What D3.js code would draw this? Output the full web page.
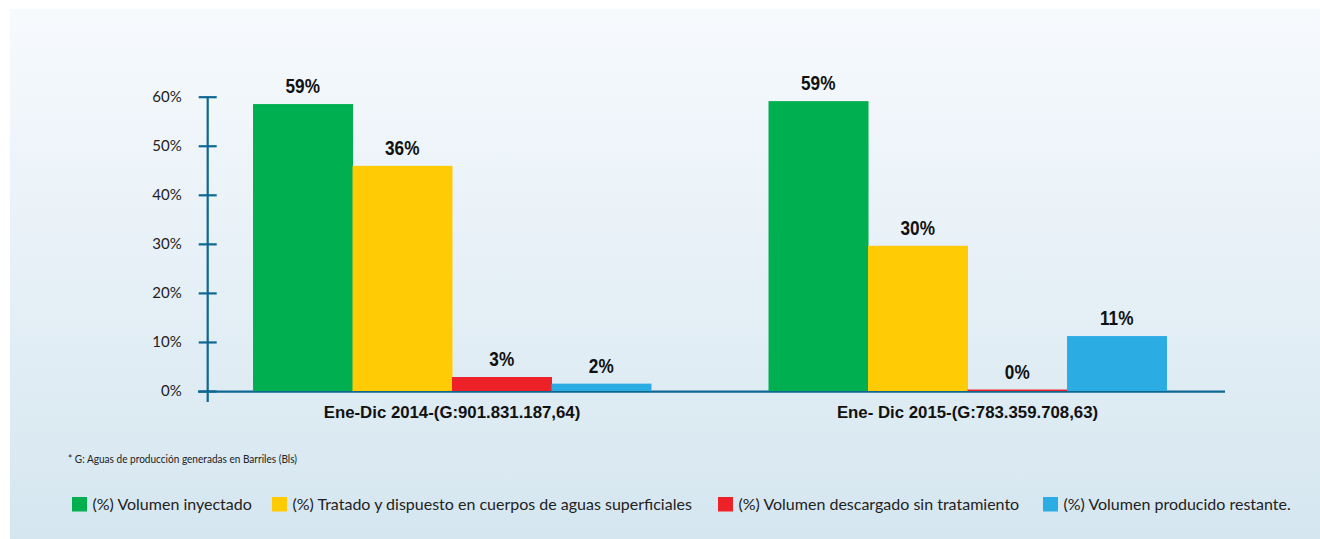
<!DOCTYPE html>
<html>
<head>
<meta charset="utf-8">
<script src="https://cdn.jsdelivr.net/npm/d3@7"></script>
<style>
  body { margin: 0; background: #fff; }
  svg { display: block; }
</style>
</head>
<body>
<svg id="chart" width="1320" height="539"></svg>
<script>
// data
let periods = ["Ene-Dic 2014-(G:901.831.187,64)", "Ene- Dic 2015-(G:783.359.708,63)"];
let seriesNames = ["(%) Volumen inyectado",
    "(%) Tratado y dispuesto en cuerpos de aguas superficiales",
    "(%) Volumen descargado sin tratamiento",
    "(%) Volumen producido restante."];
let seriesColors = ["#00b050", "#ffcb05", "#ed2128", "#2badE4"];
// bar heights (as drawn) and the printed labels
let values2014 = [0.585, 0.459, 0.0285, 0.015];
let values2015 = [0.591, 0.296, 0.003, 0.112];
let labels2014 = ["59%", "36%", "3%", "2%"];
let labels2015 = ["59%", "30%", "0%", "11%"];
let yTicks = [0, 0.1, 0.2, 0.3, 0.4, 0.5, 0.6];

let axisColor = "#0c6791";

var svg = d3.select("#chart");

// background panel
var defs = svg.append("defs");
var grad = defs.append("linearGradient").attr("id", "bg")
    .attr("x1", 0).attr("y1", 0).attr("x2", 0).attr("y2", 1);
grad.append("stop").attr("offset", "0%").attr("stop-color", "#f7fafd");
grad.append("stop").attr("offset", "100%").attr("stop-color", "#d5e6f0");
svg.append("rect")
    .attr("x", 10).attr("y", 9)
    .attr("width", 1310).attr("height", 530)
    .attr("fill", "url(#bg)");

// scales
var yScale = d3.scaleLinear()
    .domain([0, 0.6])
    .range([391, 96.7]);

var xScale = d3.scaleBand()
    .domain(periods)
    .range([194.25, 1225.25])
    .paddingInner(0.228)
    .paddingOuter(0.114);

var xSub = d3.scaleBand()
    .domain(d3.range(seriesNames.length))
    .range([0, xScale.bandwidth()]);

var groups = [
    {period: periods[0], values: values2014, labels: labels2014},
    {period: periods[1], values: values2015, labels: labels2015}
];

// y axis
var yAxis = d3.axisLeft(yScale)
    .tickValues(yTicks)
    .tickFormat(d3.format(".0%"))
    .tickSizeOuter(0)
    .tickSize(9)
    .tickPadding(17);

var yAxisGroup = svg.append("g")
    .attr("transform", "translate(207.7,0)")
    .call(yAxis);

yAxisGroup.select(".domain")
    .attr("d", `M0,${yScale(0.6)}V402`)
    .attr("stroke", axisColor)
    .attr("stroke-width", 2.2);
yAxisGroup.selectAll(".tick line")
    .attr("x1", -9).attr("x2", 9)
    .attr("stroke", axisColor)
    .attr("stroke-width", 2.2);
yAxisGroup.selectAll(".tick text")
    .attr("font-family", "Lato, 'Noto Sans', sans-serif")
    .attr("font-size", "15px")
    .attr("fill", "#222");

// x axis
var xAxis = d3.axisBottom(xScale)
    .tickSize(0)
    .tickPadding(14);

var xAxisGroup = svg.append("g")
    .attr("transform", `translate(0,${yScale(0) + 0.6})`)
    .call(xAxis);

xAxisGroup.select(".domain")
    .attr("d", "M198,0H1225")
    .attr("stroke", axisColor)
    .attr("stroke-width", 2.4);
xAxisGroup.selectAll(".tick text")
    .attr("font-family", "'Liberation Sans', Arial, sans-serif")
    .attr("font-weight", "bold")
    .attr("font-size", "16.8px")
    .attr("fill", "#111");

// bars (drawn over the axis line)
var g = svg.selectAll(".grp")
    .data(groups)
    .enter()
    .append("g")
    .attr("class", "grp")
    .attr("transform", d => `translate(${xScale(d.period)},0)`);

g.selectAll("rect")
    .data(d => d.values.map((v, i) => ({v: v, i: i, label: d.labels[i]})))
    .enter()
    .append("rect")
    .attr("x", d => xSub(d.i))
    .attr("y", d => yScale(d.v))
    .attr("width", xSub.bandwidth() + 0.5)
    .attr("height", d => yScale(0) - yScale(d.v))
    .attr("fill", d => seriesColors[d.i]);

// value labels (condensed bold look)
g.selectAll("text.val")
    .data(d => d.values.map((v, i) => ({v: v, i: i, label: d.labels[i]})))
    .enter()
    .append("text")
    .attr("class", "val")
    .attr("transform", d => `translate(${xSub(d.i) + xSub.bandwidth() / 2},${yScale(d.v) - 11}) scale(0.86,1)`)
    .attr("text-anchor", "middle")
    .attr("font-family", "'Liberation Sans', Arial, sans-serif")
    .attr("font-weight", "bold")
    .attr("font-size", "20px")
    .attr("fill", "#111")
    .text(d => d.label);

// footnote
svg.append("text")
    .attr("x", 68)
    .attr("y", 463)
    .attr("font-family", "Lato, 'Noto Sans', sans-serif")
    .attr("font-size", "12px")
    .attr("textLength", 229)
    .attr("lengthAdjust", "spacingAndGlyphs")
    .attr("fill", "#222")
    .text("* G: Aguas de producción generadas en Barriles (Bls)");

// legend
let legendX = [72, 272, 718, 1043];
var legend = svg.selectAll(".leg")
    .data(seriesNames)
    .enter()
    .append("g")
    .attr("class", "leg")
    .attr("transform", (d, i) => `translate(${legendX[i]},497)`);

legend.append("rect")
    .attr("width", 15)
    .attr("height", 14.5)
    .attr("fill", (d, i) => seriesColors[i]);

legend.append("text")
    .attr("x", 20.5)
    .attr("y", 12.5)
    .attr("font-family", "Lato, 'Noto Sans', sans-serif")
    .attr("font-size", "16px")
    .attr("fill", "#222")
    .text(d => d);
</script>
</body>
</html>
